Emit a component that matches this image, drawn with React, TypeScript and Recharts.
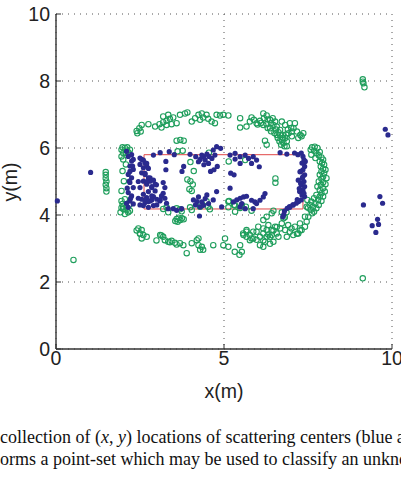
import {
  CartesianGrid,
  Label,
  ReferenceArea,
  Scatter,
  ScatterChart,
  XAxis,
  YAxis,
} from "recharts";

type Pt = [number, number];

const xTicks = [0, 5, 10];
const yTicks = [0, 2, 4, 6, 8, 10];

// target outline (m)
const outlineX = [2.62, 7.35];
const outlineY = [4.18, 5.8];

// green: reference scatterers (open circles)
const greenTopArc: Pt[] = [
  [2.40, 6.51], [2.48, 6.59], [2.55, 6.69], [2.52, 6.49], [2.42, 6.44], [2.75, 6.71],
  [2.95, 6.64], [3.08, 6.71], [3.19, 6.77], [3.29, 6.81], [3.39, 6.87], [3.49, 6.91],
  [3.14, 6.61], [3.29, 6.69], [3.44, 6.71], [3.59, 6.74], [3.19, 6.94], [3.34, 6.99],
  [3.69, 6.99], [3.84, 7.03], [3.91, 7.06], [4.04, 6.79], [4.14, 6.89], [4.24, 6.99],
  [4.34, 7.03], [4.29, 6.84], [4.38, 6.91], [4.48, 6.99], [4.53, 6.87], [4.63, 6.79],
  [4.73, 6.74], [4.78, 6.99], [4.88, 6.97], [4.98, 6.99], [5.13, 6.97], [5.48, 6.89],
  [5.48, 6.61], [5.67, 6.64], [5.77, 6.79], [5.82, 6.91], [5.89, 6.84], [5.97, 6.74],
  [6.07, 6.81], [6.17, 7.03], [6.19, 6.89], [6.27, 6.97], [6.37, 6.84], [6.45, 6.89],
  [6.52, 6.79], [6.47, 6.69], [6.57, 6.64], [6.67, 6.54], [6.75, 6.39], [6.82, 6.30],
  [6.87, 6.20], [6.72, 6.25], [6.57, 6.39], [6.37, 6.59], [6.27, 6.71], [6.17, 6.69],
  [6.22, 6.22], [6.27, 6.10], [6.92, 6.44], [7.02, 6.49], [7.07, 6.59], [7.17, 6.49],
  [7.27, 6.39], [7.36, 6.44], [7.21, 6.30], [7.31, 6.35], [7.02, 6.35], [6.96, 6.74],
  [7.11, 6.74], [6.82, 6.69], [6.72, 6.79], [6.67, 6.39], [6.77, 6.15], [6.80, 6.05],
  [6.87, 6.05], [6.00, 6.70], [6.10, 6.75], [6.30, 6.60], [6.40, 6.50], [6.50, 6.45],
  [6.60, 6.30], [6.65, 6.20], [6.70, 6.10], [6.75, 6.30], [6.85, 6.40], [6.30, 6.85],
  [6.40, 6.75], [6.55, 6.55], [6.90, 6.55], [7.00, 6.60], [6.62, 6.47],
];

const greenLeftSide: Pt[] = [
  [1.95, 5.95], [2.05, 6.00], [2.00, 5.85], [1.95, 5.75], [2.15, 5.87], [2.00, 5.66],
  [2.08, 5.51], [1.98, 5.31], [2.02, 5.01], [1.95, 4.72], [2.05, 4.47], [1.98, 4.33],
  [2.10, 4.23], [2.00, 4.18], [2.15, 4.08], [2.05, 4.03], [1.92, 4.08], [2.20, 4.13],
  [1.95, 4.42], [2.08, 5.85], [2.12, 6.02], [1.98, 6.02], [2.10, 5.92], [2.20, 5.95],
  [2.00, 4.25], [2.10, 4.15], [1.95, 4.22], [2.18, 4.30],
];

const greenRightSide: Pt[] = [
  [7.62, 6.02], [7.70, 6.04], [7.78, 6.00], [7.58, 5.95], [7.68, 5.92], [7.75, 5.85],
  [7.85, 5.88], [7.60, 5.80], [7.82, 5.78], [7.90, 5.72], [7.72, 5.70], [7.95, 5.65],
  [7.85, 5.60], [7.92, 5.55], [7.98, 5.50], [7.88, 5.45], [7.95, 5.38], [8.02, 5.35],
  [7.90, 5.30], [7.98, 5.25], [7.85, 5.20], [7.95, 5.15], [8.05, 5.10], [7.90, 5.08],
  [7.82, 5.00], [7.95, 4.98], [8.02, 4.92], [7.88, 4.90], [7.78, 4.85], [7.95, 4.80],
  [7.85, 4.75], [8.00, 4.70], [7.90, 4.65], [7.75, 4.60], [7.85, 4.55], [7.95, 4.55],
  [7.68, 4.50], [7.80, 4.45], [7.90, 4.42], [7.60, 4.40], [7.72, 4.35], [7.82, 4.30],
  [7.55, 4.30], [7.65, 4.25], [7.75, 4.20], [7.58, 4.15], [7.68, 4.10], [7.50, 4.22],
  [7.62, 4.05], [7.48, 4.45], [7.46, 4.25],
];

const greenBottomArc: Pt[] = [
  [2.45, 3.60], [2.55, 3.55], [2.50, 3.45], [2.60, 3.40], [2.55, 3.30], [2.70, 3.35],
  [2.40, 3.54], [2.50, 3.44], [2.99, 3.24], [3.14, 3.39], [3.10, 3.40], [3.19, 3.35],
  [3.24, 3.25], [3.34, 3.20], [3.44, 3.23], [3.54, 3.17], [3.69, 3.16], [3.79, 3.10],
  [3.89, 2.86], [4.04, 3.16], [4.19, 3.25], [4.24, 3.10], [4.34, 3.05], [4.38, 2.96],
  [4.29, 2.96], [4.24, 3.30], [4.68, 3.10], [4.98, 3.10], [5.03, 3.30], [5.13, 3.05],
  [5.32, 2.90], [5.46, 2.81], [5.48, 3.10], [5.53, 2.90], [3.39, 3.19], [3.59, 3.12],
  [5.57, 3.45], [5.67, 3.55], [5.77, 3.40], [5.87, 3.30], [5.97, 3.50], [6.07, 3.35],
  [6.17, 3.45], [6.27, 3.55], [6.37, 3.35], [6.22, 3.20], [6.07, 3.10], [6.47, 3.20],
  [6.57, 3.45], [6.67, 3.60], [6.72, 3.75], [6.77, 3.90], [6.87, 3.35], [6.96, 3.50],
  [7.06, 3.40], [7.21, 3.45], [7.31, 3.55], [7.41, 3.65], [7.46, 3.80], [7.51, 3.95],
  [7.41, 3.95], [7.26, 3.75], [7.11, 3.65], [5.87, 3.50], [6.02, 3.65], [6.17, 3.60],
  [6.32, 3.70], [6.42, 3.55], [6.52, 3.65], [6.62, 3.35], [6.42, 3.40], [6.27, 3.35],
  [5.77, 3.25], [5.67, 3.35], [6.82, 3.55], [6.91, 3.70], [7.01, 3.60], [6.17, 3.05],
  [6.37, 3.14], [5.58, 3.40], [5.67, 3.50], [5.82, 3.30], [6.86, 4.08], [6.81, 3.93],
  [6.57, 3.64], [6.47, 3.54], [6.32, 3.42], [6.17, 3.24], [5.97, 3.26], [7.26, 3.54],
  [7.17, 3.44],
];

const greenInner: Pt[] = [
  [3.59, 6.22], [3.70, 6.24], [3.80, 6.22], [3.62, 5.90], [3.77, 5.92], [4.00, 5.58],
  [4.10, 5.31], [3.91, 5.06], [4.00, 5.01], [4.07, 4.91], [3.97, 4.77], [4.04, 4.72],
  [4.55, 5.86], [5.14, 5.60], [5.63, 5.64], [6.53, 5.09], [6.53, 4.96], [5.15, 4.42],
  [5.30, 4.30], [3.59, 3.88], [3.65, 3.92], [3.70, 3.85], [3.75, 3.90], [3.80, 3.87],
  [3.55, 3.82], [3.62, 3.80], [3.19, 4.18], [3.29, 4.23], [3.34, 4.08], [3.59, 4.20],
  [3.69, 4.17], [3.74, 4.11], [3.99, 4.23], [4.04, 4.15], [4.29, 4.25], [4.48, 4.41],
  [4.53, 4.25], [4.58, 4.17], [5.13, 4.23], [5.33, 4.28], [5.48, 4.21], [5.65, 4.25],
  [5.53, 4.30], [5.82, 4.13], [5.33, 4.10], [5.13, 4.40], [6.42, 4.05], [6.17, 3.85],
  [6.27, 3.95], [6.47, 4.13], [6.72, 4.08],
];

const greenOutliers: Pt[] = [
  [0.52, 2.66], [9.13, 2.11], [9.13, 8.05], [9.13, 7.98], [9.15, 7.93], [9.18, 7.81],
  [1.48, 5.28], [1.48, 5.20], [1.48, 5.10], [1.50, 5.00], [1.48, 4.90], [1.50, 4.80],
  [1.50, 4.70],
];

// blue: scatterers of the unknown target (filled dots)
const blueLeftColumn: Pt[] = [
  [2.15, 5.75], [2.25, 5.61], [2.20, 5.46], [2.30, 5.36], [2.15, 5.21], [2.25, 5.11],
  [2.20, 4.97], [2.30, 4.82], [2.15, 4.67], [2.25, 4.57], [2.20, 4.42], [2.30, 4.33],
  [2.15, 4.23], [2.25, 5.80], [2.30, 5.66], [2.18, 5.01], [2.28, 5.46], [2.10, 5.90],
  [2.20, 5.30], [2.12, 4.80], [2.22, 4.50], [2.10, 4.35],
];

const blueLeftInner: Pt[] = [
  [2.55, 5.66], [2.65, 5.56], [2.50, 5.51], [2.60, 5.41], [2.70, 5.46], [2.55, 5.26],
  [2.65, 5.21], [2.75, 5.11], [2.60, 5.01], [2.80, 5.01], [2.70, 4.92], [2.85, 4.82],
  [2.50, 4.82], [2.60, 4.62], [2.70, 4.52], [2.80, 4.42], [2.65, 4.37], [2.55, 4.47],
  [2.85, 4.57], [2.90, 4.28], [2.60, 4.28], [2.75, 4.23], [2.80, 5.11], [2.95, 4.92],
  [2.95, 4.72], [3.00, 4.47], [3.14, 4.57], [3.09, 4.42], [3.19, 4.97], [3.24, 4.82],
  [2.60, 5.64], [2.70, 5.54], [2.75, 5.39], [2.65, 5.24], [2.90, 5.04], [2.99, 4.90],
  [2.70, 5.00], [2.85, 4.85], [2.75, 4.70], [2.90, 4.55], [2.65, 4.45], [2.75, 4.40],
  [2.85, 4.45], [2.50, 4.30], [2.45, 4.50], [2.45, 5.00], [2.50, 5.70],
];

const blueTop: Pt[] = [
  [2.90, 5.79], [3.10, 5.86], [3.37, 5.89], [3.52, 5.80], [3.27, 5.60], [3.27, 5.35],
  [3.99, 5.81], [4.16, 5.74], [4.29, 5.66], [4.39, 5.74], [4.44, 5.64], [4.54, 5.54],
  [4.64, 5.69], [4.73, 5.79], [4.78, 6.04], [4.90, 5.99], [4.68, 5.94], [4.49, 5.82],
  [4.34, 5.79], [4.24, 5.59], [4.60, 5.30], [4.70, 5.35], [4.80, 5.45], [3.80, 5.45],
  [3.75, 5.30], [5.18, 5.79], [5.33, 5.84], [5.48, 5.74], [5.63, 5.79], [5.73, 5.69],
  [5.87, 5.74], [5.97, 5.64], [6.05, 5.44], [5.48, 5.54], [5.33, 5.67], [5.82, 5.54],
  [6.67, 5.86], [6.87, 5.82], [5.20, 5.25], [5.30, 5.20], [4.40, 5.50], [4.55, 5.75],
];

const blueBottom: Pt[] = [
  [4.09, 4.45], [4.24, 4.54], [4.34, 4.39], [4.44, 4.49], [4.54, 4.34], [4.29, 4.24],
  [4.68, 4.45], [4.49, 4.60], [4.78, 4.70], [4.39, 4.29], [4.27, 3.97], [4.93, 4.24],
  [5.18, 4.80], [5.28, 4.39], [5.38, 4.45], [5.48, 4.50], [5.58, 4.54], [5.67, 4.56],
  [5.82, 4.44], [5.97, 4.34], [6.07, 4.44], [6.17, 4.54], [6.22, 4.64], [5.92, 4.39],
  [5.87, 4.19], [5.63, 4.19], [5.48, 4.24], [5.53, 4.34], [3.19, 4.65], [3.24, 4.50],
  [3.29, 4.35], [3.34, 4.19], [3.49, 4.19], [3.59, 4.14], [3.10, 4.45], [3.00, 4.30],
  [3.74, 4.19], [4.20, 4.40], [4.15, 4.30],
];

const blueRight: Pt[] = [
  [7.30, 5.85], [7.35, 5.75], [7.38, 5.65], [7.32, 5.55], [7.40, 5.45], [7.35, 5.35],
  [7.28, 5.30], [7.40, 5.20], [7.33, 5.10], [7.38, 5.00], [7.30, 4.90], [7.40, 4.85],
  [7.35, 4.75], [7.25, 4.70], [7.32, 4.60], [7.40, 4.55], [7.30, 4.45], [7.22, 4.40],
  [7.15, 4.35], [7.05, 4.30], [6.95, 4.25], [6.88, 4.20], [6.80, 4.12], [6.78, 4.02],
  [6.75, 3.95], [7.20, 5.80], [7.26, 5.29], [7.21, 5.04], [7.24, 4.79], [7.18, 4.46],
  [7.06, 4.30], [6.96, 4.23], [7.42, 5.60], [7.35, 5.15], [7.28, 4.95], [7.38, 4.65],
  [7.10, 5.85],
];

const blueOutliers: Pt[] = [
  [0.04, 4.42], [1.03, 5.27], [9.80, 6.56], [9.88, 6.39], [9.15, 4.30], [9.64, 4.55],
  [9.72, 4.35], [9.57, 3.87], [9.60, 3.72], [9.41, 3.68], [9.52, 3.48],
];

const toPoints = (...groups: Pt[][]) =>
  groups.flat().map(([x, y]) => ({ x, y }));

const greenPoints = toPoints(
  greenTopArc,
  greenLeftSide,
  greenRightSide,
  greenBottomArc,
  greenInner,
  greenOutliers
);

const bluePoints = toPoints(
  blueLeftColumn,
  blueLeftInner,
  blueTop,
  blueBottom,
  blueRight,
  blueOutliers
);

const GREEN = "#1f9e5c";
const BLUE = "#2a2a8e";
const AXIS_FONT = "'Liberation Sans', Arial, Helvetica, sans-serif";

const GreenRing = (props: any) => (
  <circle cx={props.cx} cy={props.cy} r={2.7} fill="none" stroke={GREEN} strokeWidth={1.1} />
);

const BlueDot = (props: any) => (
  <circle cx={props.cx} cy={props.cy} r={2.6} fill={BLUE} />
);

const tickStyle = { fontSize: 19.5, fill: "#222", fontFamily: AXIS_FONT };

export default function App() {
  return (
    <div
      style={{
        position: "absolute",
        left: 0,
        top: 0,
        width: 401,
        height: 478,
        overflow: "hidden",
        background: "#fff",
      }}
    >
      <ScatterChart
        width={401}
        height={420}
        margin={{ top: 14, right: 9, bottom: 0, left: 0 }}
      >
        <CartesianGrid
          stroke="#555"
          strokeDasharray="1 5"
          horizontalValues={yTicks}
          verticalValues={xTicks}
        />
        <ReferenceArea
          x1={outlineX[0]}
          x2={outlineX[1]}
          y1={outlineY[0]}
          y2={outlineY[1]}
          fill="none"
          stroke="#e04848"
          strokeWidth={1}
          ifOverflow="visible"
        />
        <XAxis
          type="number"
          dataKey="x"
          domain={[0, 10]}
          ticks={xTicks}
          interval={0}
          height={71}
          axisLine={{ stroke: "#333", strokeWidth: 1.4 }}
          tickLine={{ stroke: "#333" }}
          tickSize={-5}
          tickMargin={7}
          tick={tickStyle}
        >
          <Label
            content={() => (
              <text
                x={224}
                y={398}
                textAnchor="middle"
                fontSize={19.5}
                fill="#222"
                fontFamily={AXIS_FONT}
              >
                x(m)
              </text>
            )}
          />
        </XAxis>
        <YAxis
          type="number"
          dataKey="y"
          domain={[0, 10]}
          ticks={yTicks}
          interval={0}
          width={56}
          axisLine={{ stroke: "#333", strokeWidth: 1.4 }}
          tickLine={{ stroke: "#333" }}
          tickSize={-5}
          tickMargin={11}
          tick={tickStyle}
        >
          <Label
            content={() => (
              <text
                x={10}
                y={182}
                transform="rotate(-90 10 182)"
                textAnchor="middle"
                dominantBaseline="central"
                fontSize={19.5}
                fill="#222"
                fontFamily={AXIS_FONT}
              >
                y(m)
              </text>
            )}
          />
        </YAxis>
        <Scatter
          name="reference"
          data={greenPoints}
          shape={GreenRing}
          isAnimationActive={false}
        />
        <Scatter
          name="target"
          data={bluePoints}
          shape={BlueDot}
          isAnimationActive={false}
        />
      </ScatterChart>
      <div
        style={{
          position: "absolute",
          left: 0,
          top: 427,
          width: 460,
          fontFamily: "'Liberation Serif', 'Times New Roman', serif",
          fontSize: 18,
          lineHeight: "21.5px",
          color: "#111",
          whiteSpace: "nowrap",
        }}
      >
        <div>
          collection of (<i>x</i>, <i>y</i>) locations of scattering centers (blue and
        </div>
        <div>orms a point-set which may be used to classify an unknown</div>
      </div>
    </div>
  );
}
